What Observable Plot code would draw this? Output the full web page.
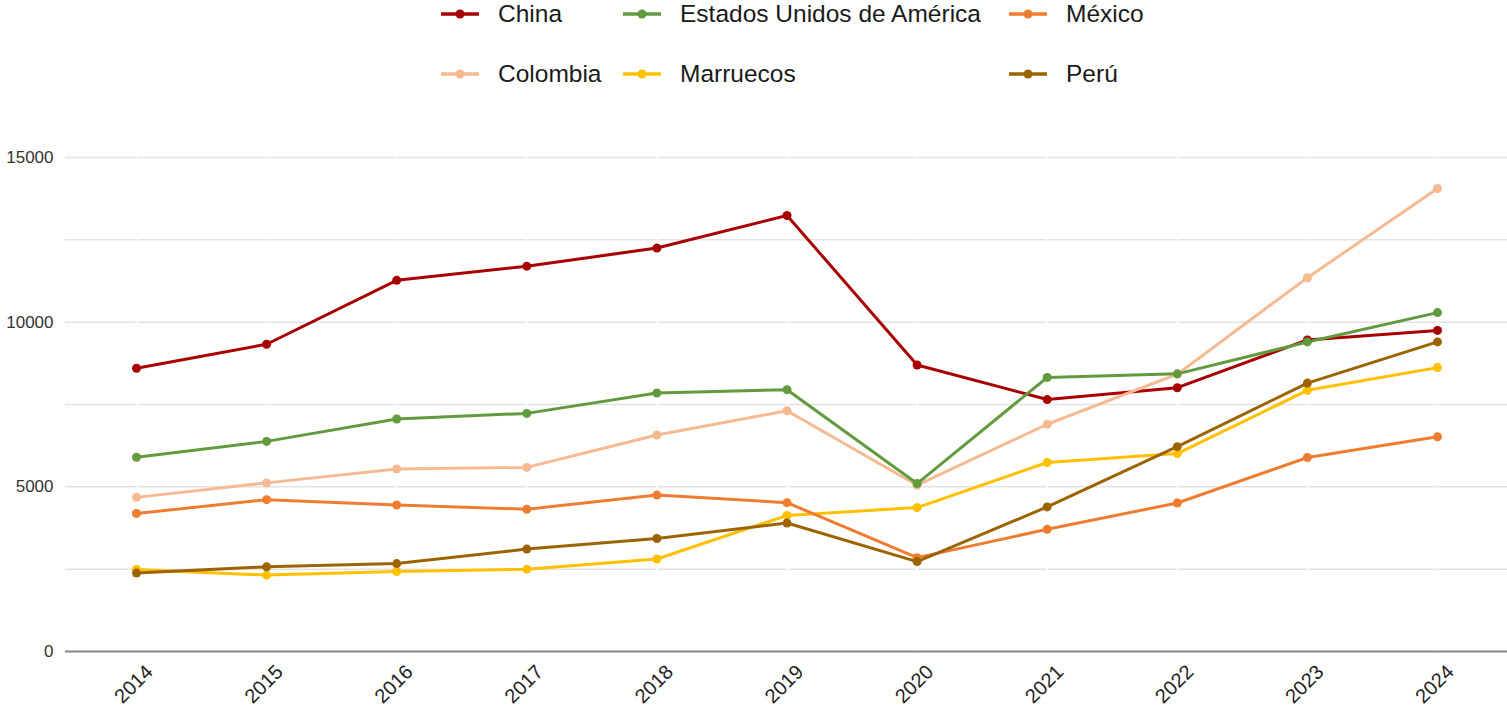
<!DOCTYPE html>
<html>
<head>
<meta charset="utf-8">
<script src="https://cdn.jsdelivr.net/npm/d3@7"></script>
<script src="https://cdn.jsdelivr.net/npm/@observablehq/plot@0.6"></script>
<style>
  html, body { margin: 0; padding: 0; background: #fff; }
  body { width: 1507px; height: 719px; overflow: hidden; font-family: "Liberation Sans", Arial, sans-serif; }
  #legend { position: relative; width: 1507px; height: 105px; }
  .item { position: absolute; display: flex; align-items: center; height: 30px; font-size: 24.5px; color: #1a1a1a; white-space: nowrap; }
  .item svg { margin-right: 19px; }
</style>
</head>
<body>
<div id="legend"></div>
<div id="chart"></div>
<script>
const years = [2014, 2015, 2016, 2017, 2018, 2019, 2020, 2021, 2022, 2023, 2024];
const countries = ["China", "Colombia", "Estados Unidos de América", "Marruecos", "México", "Perú"];
const colors = ["#A80000", "#F5BA92", "#629B3F", "#FFC000", "#EE7D31", "#9C6400"];
const china     = [8600, 9330, 11270, 11700, 12250, 13240, 8700, 7650, 8010, 9460, 9750];
const colombia  = [4680, 5120, 5540, 5590, 6575, 7310, 5050, 6900, 8420, 11350, 14060];
const usa       = [5900, 6380, 7060, 7230, 7850, 7950, 5100, 8320, 8430, 9400, 10290];
const marruecos = [2490, 2320, 2430, 2500, 2810, 4130, 4370, 5740, 6010, 7930, 8620];
const mexico    = [4190, 4610, 4450, 4320, 4750, 4520, 2850, 3710, 4510, 5890, 6520];
const peru      = [2380, 2570, 2670, 3110, 3430, 3900, 2730, 4390, 6220, 8150, 9400];
const yTicks = [0, 5000, 10000, 15000];
const yGrid = [0, 2500, 5000, 7500, 10000, 12500, 15000];

const series = [china, colombia, usa, marruecos, mexico, peru];
const data = [];
countries.forEach((c, i) => years.forEach((y, j) => data.push({country: c, year: y, value: series[i][j]})));

// Legend (3 columns, filled by column)
const legendCols = [441, 623, 1009];
const legendRows = [14, 74];
const legend = document.getElementById("legend");
countries.forEach((c, i) => {
  const col = Math.floor(i / 2), row = i % 2;
  const div = document.createElement("div");
  div.className = "item";
  div.style.left = legendCols[col] + "px";
  div.style.top = (legendRows[row] - 15) + "px";
  div.innerHTML = `<svg width="38" height="14"><line x1="0" x2="38" y1="7" y2="7" stroke="${colors[i]}" stroke-width="3.5"/><circle cx="19" cy="7" r="4.5" fill="${colors[i]}"/></svg><span>${c}</span>`;
  legend.appendChild(div);
});

const chart = Plot.plot({
  width: 1507,
  height: 614,
  marginTop: 52,
  marginBottom: 68,
  marginLeft: 65,
  marginRight: 0,
  style: {fontFamily: '"Liberation Sans", Arial, sans-serif', background: "#fff"},
  x: {type: "linear", domain: [2014, 2024], insetLeft: 71, insetRight: 70},
  y: {domain: [0, 15000]},
  color: {domain: countries, range: colors},
  marks: [
    Plot.ruleY(yGrid, {stroke: "#E3E3E3", strokeWidth: 1.5}),
    Plot.ruleX(years, {stroke: "#fff", strokeWidth: 1.5}),
    Plot.ruleY([0], {stroke: "#8A8A8A", strokeWidth: 2}),
    Plot.axisY({ticks: yTicks, tickSize: 0, tickPadding: 12, fontSize: 17, tickFormat: d => String(d), label: null, fill: "#333"}),
    Plot.axisX({ticks: years, tickSize: 0, tickPadding: 17, tickRotate: -45, fontSize: 20, tickFormat: d => String(d), label: null, fill: "#222", dx: 13}),
    Plot.line(data, {x: "year", y: "value", z: "country", stroke: "country", strokeWidth: 3}),
    Plot.dot(data, {x: "year", y: "value", fill: "country", r: 4.5})
  ]
});
document.getElementById("chart").appendChild(chart);
</script>
</body>
</html>
